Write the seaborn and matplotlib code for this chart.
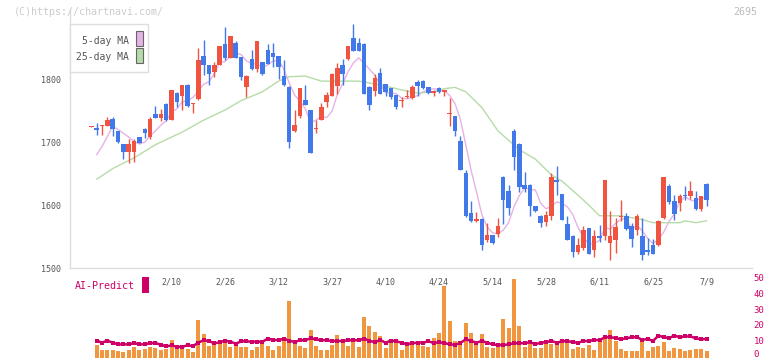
import numpy as np
import matplotlib
matplotlib.use("Agg")
import matplotlib.pyplot as plt
from matplotlib.patches import Rectangle
import seaborn as sns

# daily candles, oldest first (2695, 2025)
opens = [1724, 1722, 1725, 1726, 1737, 1718, 1697, 1685, 1685, 1708,
         1721, 1708, 1744, 1739, 1761, 1735, 1778, 1773, 1791, 1760,
         1769, 1837, 1823, 1812, 1823, 1856, 1834, 1857, 1835, 1787,
         1832, 1816, 1827, 1846, 1841, 1837, 1805, 1788, 1717, 1742,
         1767, 1751, 1721, 1735, 1764, 1773, 1790, 1823, 1832, 1866,
         1858, 1856, 1788, 1781, 1810, 1792, 1786, 1775, 1765, 1771,
         1770, 1796, 1797, 1787, 1778, 1786, 1780, 1744, 1741, 1702,
         1651, 1587, 1574, 1578, 1544, 1552, 1554, 1645, 1622, 1718,
         1697, 1632, 1632, 1599, 1583, 1573, 1582, 1640, 1618, 1570,
         1551, 1525, 1531, 1564, 1528, 1551, 1551, 1539, 1544, 1581,
         1583, 1567, 1560, 1551, 1528, 1537, 1536, 1579, 1631, 1607,
         1604, 1616, 1615, 1611, 1593, 1633]
highs = [1726, 1730, 1728, 1740, 1740, 1718, 1697, 1705, 1705, 1708,
         1723, 1740, 1758, 1753, 1762, 1783, 1779, 1791, 1792, 1762,
         1849, 1862, 1823, 1828, 1853, 1883, 1868, 1860, 1835, 1806,
         1846, 1861, 1827, 1856, 1857, 1837, 1831, 1789, 1751, 1786,
         1791, 1751, 1735, 1762, 1779, 1810, 1825, 1832, 1852, 1888,
         1865, 1857, 1789, 1808, 1818, 1793, 1786, 1775, 1772, 1783,
         1791, 1799, 1798, 1787, 1783, 1788, 1783, 1770, 1742, 1710,
         1656, 1606, 1589, 1579, 1571, 1552, 1579, 1646, 1632, 1721,
         1698, 1653, 1633, 1599, 1584, 1591, 1651, 1662, 1618, 1583,
         1552, 1548, 1567, 1564, 1561, 1569, 1640, 1590, 1579, 1608,
         1588, 1571, 1586, 1580, 1548, 1546, 1577, 1644, 1633, 1616,
         1618, 1631, 1638, 1622, 1614, 1635]
lows = [1724, 1712, 1712, 1725, 1709, 1699, 1673, 1667, 1669, 1699,
        1707, 1705, 1739, 1734, 1734, 1735, 1756, 1751, 1756, 1746,
        1767, 1807, 1791, 1804, 1822, 1831, 1834, 1834, 1799, 1771,
        1815, 1811, 1806, 1824, 1820, 1800, 1790, 1691, 1716, 1739,
        1759, 1682, 1715, 1735, 1756, 1773, 1777, 1791, 1830, 1845,
        1845, 1776, 1751, 1773, 1776, 1773, 1769, 1752, 1756, 1770,
        1769, 1774, 1785, 1776, 1774, 1778, 1774, 1725, 1709, 1655,
        1581, 1573, 1573, 1528, 1542, 1538, 1550, 1570, 1585, 1655,
        1620, 1620, 1582, 1589, 1565, 1566, 1577, 1616, 1576, 1545,
        1517, 1523, 1528, 1522, 1518, 1542, 1545, 1513, 1524, 1574,
        1561, 1533, 1552, 1513, 1521, 1522, 1535, 1578, 1602, 1577,
        1591, 1608, 1610, 1592, 1591, 1599]
closes = [1725, 1719, 1727, 1735, 1721, 1700, 1685, 1697, 1702, 1699,
          1715, 1737, 1739, 1745, 1735, 1783, 1764, 1791, 1757, 1761,
          1831, 1822, 1808, 1823, 1853, 1834, 1868, 1834, 1804, 1805,
          1816, 1861, 1808, 1824, 1835, 1820, 1791, 1701, 1727, 1786,
          1759, 1682, 1722, 1756, 1775, 1808, 1818, 1808, 1852, 1845,
          1845, 1777, 1759, 1802, 1777, 1780, 1771, 1756, 1767, 1772,
          1787, 1790, 1786, 1778, 1782, 1780, 1783, 1745, 1717, 1655,
          1582, 1574, 1578, 1536, 1553, 1539, 1566, 1608, 1596, 1677,
          1628, 1626, 1598, 1590, 1572, 1585, 1644, 1636, 1577, 1545,
          1525, 1537, 1560, 1523, 1551, 1547, 1640, 1551, 1565, 1582,
          1562, 1546, 1583, 1520, 1526, 1522, 1575, 1644, 1605, 1586,
          1615, 1614, 1622, 1593, 1614, 1608]

# 5-day MA, from the 2nd candle on
ma5 = [1680, 1693, 1709, 1725, 1720, 1714, 1708, 1701, 1697, 1700,
       1710, 1718, 1727, 1734, 1748, 1753, 1764, 1766, 1771, 1781,
       1792, 1796, 1809, 1827, 1828, 1837, 1842, 1839, 1829, 1825,
       1824, 1819, 1823, 1829, 1830, 1816, 1794, 1775, 1765, 1753,
       1731, 1735, 1741, 1739, 1749, 1776, 1793, 1812, 1826, 1834,
       1825, 1816, 1806, 1792, 1779, 1778, 1777, 1770, 1769, 1771,
       1774, 1780, 1783, 1785, 1783, 1782, 1774, 1761, 1736, 1696,
       1655, 1621, 1585, 1565, 1556, 1554, 1560, 1572, 1597, 1615,
       1627, 1625, 1624, 1603, 1594, 1598, 1605, 1603, 1597, 1585,
       1564, 1549, 1538, 1539, 1544, 1564, 1562, 1571, 1577, 1580,
       1561, 1568, 1559, 1547, 1539, 1545, 1557, 1574, 1586, 1605,
       1613, 1608, 1606, 1612, 1610]

ma25_at = [1, 4, 8, 12, 17, 21, 25, 28, 32, 35, 37, 40, 43, 50, 54, 58, 61,
           64, 66, 68, 70, 73, 76, 80, 83, 86, 88, 90, 93, 95, 99, 103, 105,
           108, 110, 111, 113, 115]
ma25 = [1641, 1658, 1675, 1696, 1716, 1735, 1751, 1766, 1780, 1797, 1804,
        1805, 1797, 1797, 1791, 1783, 1778, 1780, 1785, 1787, 1780, 1755,
        1718, 1688, 1673, 1648, 1638, 1623, 1600, 1583, 1583, 1577, 1572,
        1572, 1572, 1575, 1572, 1575]

# volume and AI-Predict, from the 2nd candle on
volume = [8.0, 4.8, 4.8, 4.8, 4.2, 3.6, 4.8, 6.7, 4.8, 5.5,
          6.5, 6.1, 4.8, 5.5, 11.1, 6.1, 6.1, 5.5, 3.6, 23.7,
          14.9, 7.4, 8.0, 8.6, 9.9, 6.7, 7.4, 6.7, 6.7, 4.8,
          6.7, 9.3, 7.4, 4.8, 7.4, 11.1, 35.7, 9.3, 7.4, 6.1,
          17.4, 7.4, 4.8, 4.8, 8.0, 14.3, 9.9, 7.4, 12.4, 6.7,
          25.6, 19.9, 16.2, 13.6, 6.1, 11.8, 11.1, 4.8, 8.0, 8.0,
          8.6, 7.4, 6.7, 12.4, 15.5, 45.1, 23.1, 10.5, 8.0, 21.9,
          15.5, 8.6, 14.9, 6.7, 6.1, 6.7, 24.4, 18.7, 49.6, 19.9,
          6.7, 8.6, 6.1, 6.1, 9.9, 8.6, 8.6, 9.9, 9.5, 5.5,
          6.7, 6.1, 8.0, 4.8, 11.8, 14.3, 17.4, 10.5, 5.5, 4.2,
          4.2, 4.2, 11.1, 4.2, 6.7, 7.4, 9.9, 4.2, 6.1, 5.5,
          4.2, 4.8, 5.5, 5.5, 4.2]
ai_predict = [10.7, 9.5, 10.7, 9.5, 8.4, 8.4, 8.4, 9.2, 8.4, 8.4,
              9.2, 9.2, 8.2, 7.1, 7.8, 6.9, 6.9, 7.8, 7.3, 9.5,
              11.0, 10.5, 9.0, 9.7, 10.7, 10.1, 8.8, 10.3, 10.3, 10.1,
              10.1, 10.1, 12.0, 11.2, 11.0, 12.0, 10.7, 9.9, 11.0, 11.0,
              12.2, 11.6, 11.0, 11.0, 10.5, 10.5, 10.5, 11.0, 11.0, 11.0,
              12.0, 10.7, 9.7, 11.2, 9.4, 10.8, 10.3, 9.5, 8.4, 9.1,
              9.5, 9.5, 10.3, 9.3, 9.7, 9.3, 8.4, 8.2, 9.3, 11.6,
              10.5, 9.5, 10.5, 9.5, 8.4, 8.0, 8.0, 8.4, 9.1, 9.1,
              9.1, 9.7, 8.6, 9.3, 9.9, 10.5, 9.5, 10.3, 10.5, 9.7,
              9.5, 10.5, 10.5, 11.2, 11.0, 12.9, 12.9, 12.4, 11.6, 12.2,
              12.9, 12.9, 11.2, 11.8, 10.5, 13.9, 12.9, 12.4, 13.9, 12.9,
              13.4, 13.4, 12.2, 11.6, 11.8]

date_at = [15, 25, 35, 45, 55, 65, 75, 85, 95, 105, 115]
date_labels = ["2/10", "2/26", "3/12", "3/27", "4/10", "4/24",
               "5/14", "5/28", "6/11", "6/25", "7/9"]
vol_ticks = [0, 10, 20, 30, 40, 50]

RED = "#f0533f"
BLUE = "#4179ea"
PINK = "#e6b3e6"
GREEN = "#b5dca8"
ORANGE = "#f0963e"
MAGENTA = "#cc0066"
GRID = "#dddddd"
TXT = "#555555"

sns.set_style("white")
plt.rcParams["font.family"] = ["DejaVu Sans Mono", "DejaVu Sans"]

W, H = 772, 361
fig = plt.figure(figsize=(W / 100, H / 100), dpi=100)
ax = fig.add_axes([70 / W, 93 / H, 682 / W, 258 / H])
axv = fig.add_axes([70 / W, 3.3 / H, 682 / W, 79.4 / H])
axv.patch.set_visible(False)

xlim = (-3.98, 123.5)

# candles
x = np.arange(len(closes))
o = np.array(opens, float)
c = np.array(closes, float)
col = np.where(c >= o, RED, BLUE)
ax.vlines(x, lows, highs, colors=col, lw=1.0, zorder=2)
ax.bar(x, np.maximum(np.abs(c - o), 1.6), bottom=np.minimum(o, c),
       width=0.84, color=col, lw=0, zorder=3)

# moving averages
sns.lineplot(x=x[1:], y=ma5, ax=ax, color=PINK, lw=1.0, zorder=1)
sns.lineplot(x=ma25_at, y=ma25, ax=ax, color=GREEN, lw=1.0, zorder=1)

ax.set_xlim(*xlim)
ax.set_ylim(1500, 1910)
for s in ["top", "right"]:
    ax.spines[s].set_visible(False)
for s in ["left", "bottom"]:
    ax.spines[s].set_color(GRID)
    ax.spines[s].set_linewidth(1.0)
ax.set_yticks([1500, 1600, 1700, 1800])
ax.set_yticklabels(["1500", "1600", "1700", "1800"])
ax.set_xticks([xlim[0] + (xlim[1] - xlim[0]) * k / 11 for k in range(12)])
ax.set_xticklabels([])
ax.tick_params(axis="both", direction="inout", length=6.5, width=1.0,
               color=GRID, labelsize=6, labelcolor=TXT, pad=3)
ax.set_xlabel("")
ax.set_ylabel("")
for i, lab in zip(date_at, date_labels):
    ax.text(i, -0.054, lab, transform=ax.get_xaxis_transform(),
            ha="center", va="center", fontsize=6, color=TXT, clip_on=False)

# volume + AI-Predict
axv.bar(x[1:], volume, width=0.75, color=ORANGE, lw=0, zorder=1)
sns.lineplot(x=x[1:], y=ai_predict, ax=axv, color=MAGENTA, lw=1.8,
             marker="s", markersize=2.2, markeredgewidth=0, zorder=3)
axv.set_xlim(*xlim)
axv.set_ylim(0, 50)
for s in axv.spines.values():
    s.set_visible(False)
axv.set_xticks([])
axv.set_yticks([])
axv.set_xlabel("")
axv.set_ylabel("")
# right-hand scale, the lowest label nudged up so it stays inside
for v in vol_ticks:
    axv.text(1.002, max(v, 1.8), str(v), transform=axv.get_yaxis_transform(),
             ha="left", va="center", fontsize=6.5, color=MAGENTA,
             clip_on=False)

# header texts
fig.text(14 / W, 1 - 12 / H, "(C)https://chartnavi.com/", fontsize=7.2,
         color="#cccccc", ha="left", va="center")
fig.text(757 / W, 1 - 12 / H, "2695", fontsize=7.2, color="#bbbbbb",
         ha="right", va="center")

# legend box
fig.patches.append(Rectangle((70 / W, 1 - 72 / H), 78 / W, 48 / H,
                             transform=fig.transFigure, facecolor="white",
                             edgecolor=GRID, lw=1.0, zorder=5))
fig.text(128.5 / W, 1 - 40.5 / H, "5-day MA", fontsize=7, color=TXT,
         ha="right", va="center", zorder=6)
fig.text(128.5 / W, 1 - 57 / H, "25-day MA", fontsize=7, color=TXT,
         ha="right", va="center", zorder=6)
for yy, fc in [(31, PINK), (48.3, GREEN)]:
    fig.patches.append(Rectangle((136 / W, 1 - (yy + 14.5) / H), 6.7 / W,
                                 14.5 / H, transform=fig.transFigure,
                                 facecolor=fc, edgecolor="#666666", lw=0.8,
                                 zorder=6))

# AI-Predict label
fig.text(75 / W, 1 - 286 / H, "AI-Predict", fontsize=7.2, color=MAGENTA,
         ha="left", va="center")
fig.patches.append(Rectangle((141.7 / W, 1 - 292.7 / H), 7.3 / W, 16 / H,
                             transform=fig.transFigure, facecolor=MAGENTA,
                             lw=0))

fig.savefig("out.png", dpi=100)
